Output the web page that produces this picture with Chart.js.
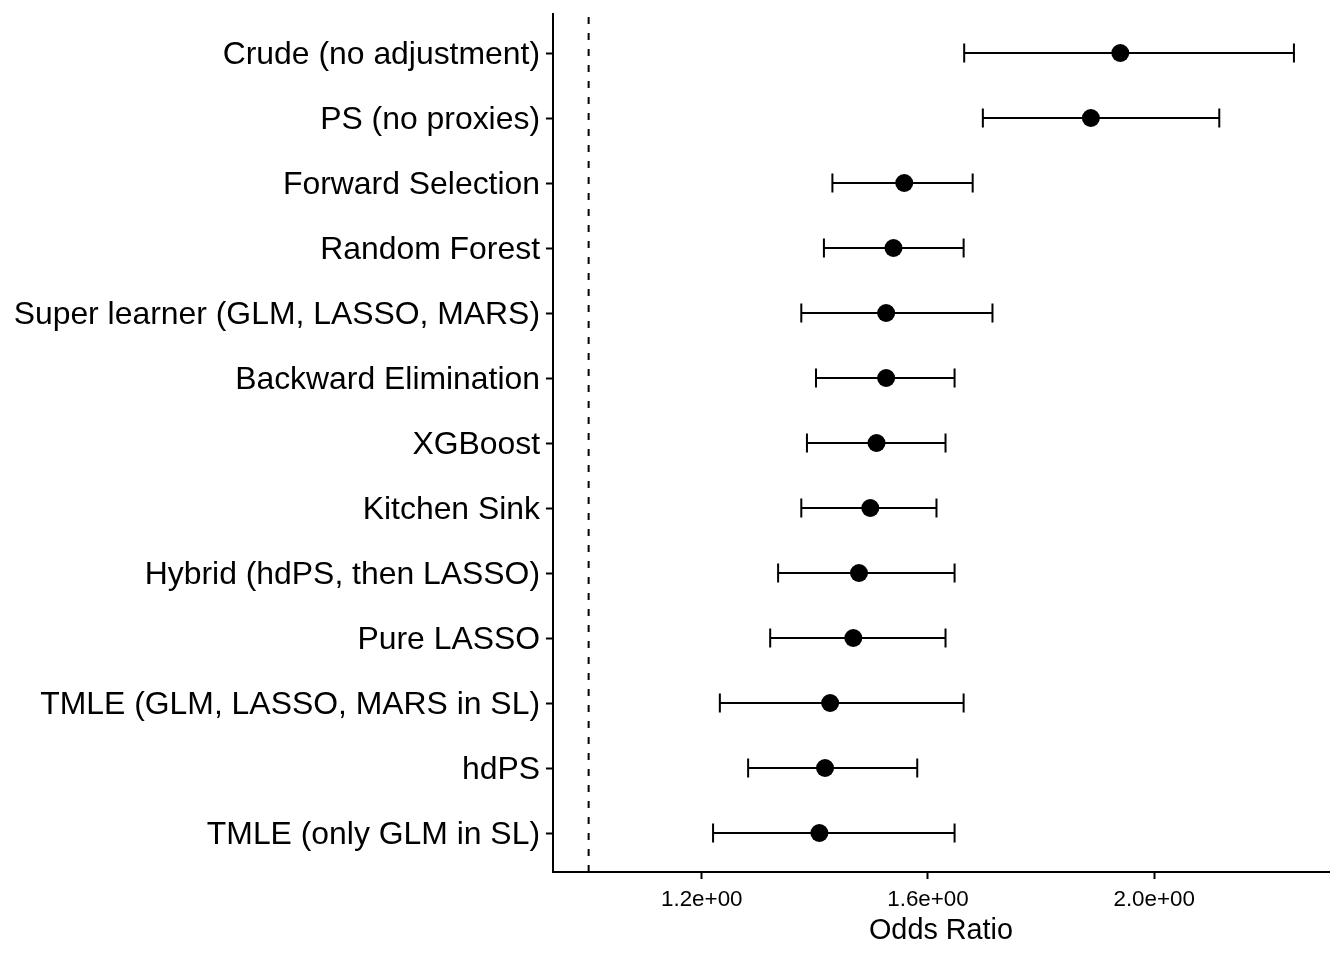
<!DOCTYPE html>
<html>
<head>
<meta charset="utf-8">
<script src="https://cdn.jsdelivr.net/npm/chart.js@4.4.1/dist/chart.umd.min.js"></script>
<style>
  html, body { margin: 0; padding: 0; background: #fff; }
  #wrap { width: 1344px; height: 960px; }
</style>
</head>
<body>
<div id="wrap"><canvas id="forest"></canvas></div>
<script>
//my data
const methods = [
    'Crude (no adjustment)',
    'PS (no proxies)',
    'Forward Selection',
    'Random Forest',
    'Super learner (GLM, LASSO, MARS)',
    'Backward Elimination',
    'XGBoost',
    'Kitchen Sink',
    'Hybrid (hdPS, then LASSO)',
    'Pure LASSO',
    'TMLE (GLM, LASSO, MARS in SL)',
    'hdPS',
    'TMLE (only GLM in SL)'
]
const oddsRatio = [1.940, 1.888, 1.558, 1.539, 1.526, 1.526, 1.509, 1.498, 1.478, 1.468, 1.427, 1.418, 1.408]
const lowerCI   = [1.664, 1.697, 1.431, 1.416, 1.376, 1.402, 1.386, 1.376, 1.335, 1.321, 1.232, 1.282, 1.220]
const upperCI   = [2.247, 2.115, 1.679, 1.663, 1.714, 1.647, 1.631, 1.615, 1.647, 1.631, 1.663, 1.581, 1.647]
const xTicks = [1.2, 1.6, 2.0]
const nullValue = 1

/////////////////////////////////////////////////////////////
//plugin: reference line + error bars
/////////////////////////////////////////////////////////////
const errorBars = {
    id: 'errorBars',
    beforeDatasetsDraw(chart) {
        const {ctx, chartArea, scales: {x, y}} = chart
        ctx.save()
        // dashed line at OR = 1
        const x0 = x.getPixelForValue(nullValue)
        ctx.strokeStyle = '#000'
        ctx.lineWidth = 2
        ctx.setLineDash([7, 9])
        ctx.beginPath()
        ctx.moveTo(x0, chartArea.bottom)
        ctx.lineTo(x0, chartArea.top)
        ctx.stroke()
        ctx.setLineDash([])
        // whiskers
        const cap = 9.5
        methods.forEach((m, i) => {
            const yy = y.getPixelForValue(i)
            const xl = x.getPixelForValue(lowerCI[i])
            const xh = x.getPixelForValue(upperCI[i])
            ctx.beginPath()
            ctx.moveTo(xl, yy)
            ctx.lineTo(xh, yy)
            ctx.moveTo(xl, yy - cap)
            ctx.lineTo(xl, yy + cap)
            ctx.moveTo(xh, yy - cap)
            ctx.lineTo(xh, yy + cap)
            ctx.stroke()
        })
        ctx.restore()
    }
}

// setup
const dataForest = {
    datasets: [{
        label: 'Odds Ratio',
        data: oddsRatio.map((v, i) => ({x: v, y: i})),
        backgroundColor: '#000',
        borderColor: '#000',
        borderWidth: 0,
        pointRadius: 9,
        pointHoverRadius: 9
    }]
}

// config
const configForest = {
    type: 'scatter',
    data: dataForest,
    plugins: [errorBars],
    options: {
        responsive: true,
        maintainAspectRatio: false,
        animation: false,
        layout: {padding: {left: 0, right: 15, top: 14, bottom: 0}},
        plugins: {
            legend: {display: false},
            tooltip: {enabled: false}
        },
        scales: {
            x: {
                type: 'linear',
                min: 0.937,
                max: 2.309,
                afterBuildTicks: axis => { axis.ticks = xTicks.map(v => ({value: v})) },
                afterFit: axis => {
                    axis.height = 88
                    axis.paddingLeft = 0
                    axis.paddingRight = 0
                },
                grid: {drawOnChartArea: false, drawTicks: true, tickLength: 7, tickWidth: 2, tickColor: '#000'},
                border: {display: true, color: '#000', width: 2},
                ticks: {
                    color: '#000',
                    padding: 7,
                    maxRotation: 0,
                    font: {family: "'Liberation Sans', Arial, sans-serif", size: 22.4},
                    callback: v => v.toFixed(1) + 'e+00'
                },
                title: {
                    display: true,
                    text: 'Odds Ratio',
                    color: '#000',
                    font: {family: "'Liberation Sans', Arial, sans-serif", size: 28.8},
                    padding: {top: 0, bottom: 12}
                }
            },
            y: {
                type: 'linear',
                reverse: true,
                min: -0.6,
                max: 12.6,
                afterBuildTicks: axis => { axis.ticks = methods.map((m, i) => ({value: i})) },
                afterFit: axis => {
                    axis.width = 553
                    axis.paddingTop = 0
                    axis.paddingBottom = 0
                },
                grid: {drawOnChartArea: false, drawTicks: true, tickLength: 7, tickWidth: 2, tickColor: '#000'},
                border: {display: true, color: '#000', width: 2},
                ticks: {
                    color: '#000',
                    padding: 6,
                    labelOffset: 2,
                    autoSkip: false,
                    font: {family: "'Liberation Sans', Arial, sans-serif", size: 31.9},
                    callback: v => methods[v]
                }
            }
        }
    }
}

// render
const forestChart = new Chart(document.getElementById('forest'), configForest)
</script>
</body>
</html>
